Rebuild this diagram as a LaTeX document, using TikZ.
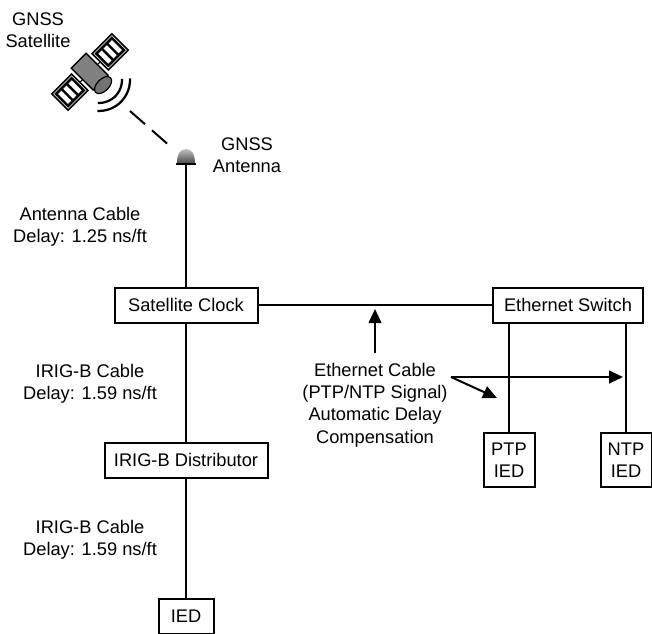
\documentclass[tikz,border=0pt]{standalone}
\usepackage{fontspec}
\setmainfont{Liberation Sans}
\usetikzlibrary{arrows.meta}
\tikzset{
  cable/.style={line width=1.5pt},
  callout/.style={line width=1.5pt,-{Triangle[length=10.5pt,width=9.5pt]}},
  devicebox/.style={draw,line width=1.5pt,fill=white,inner sep=0,align=center,font=\fontsize{13.7pt}{16.8pt}\selectfont},
  cablelabel/.style={inner sep=0,align=center,font=\fontsize{13.7pt}{16.8pt}\selectfont},
  satbody/.style={draw,line width=1pt,fill=black!50}
}
\newcommand{\boxheight}{26.25pt}
\newcommand{\solarpanel}[1]{%
  \begin{scope}[shift={(#1,0)}]
    \draw[line width=1.2pt,fill=white] (-14,-11.5) rectangle (14,11.5);
    \fill[black] (-12.3,-9.8) rectangle (12.3,9.8);
    \fill[white] (-9.6,-7) rectangle (-5,7);
    \fill[white] (-2.3,-7) rectangle (2.3,7);
    \fill[white] (5,-7) rectangle (9.6,7);
  \end{scope}}

\begin{document}
\begin{tikzpicture}[x=0.75pt,y=-0.75pt]
\useasboundingbox (0,0) rectangle (652,633);

\node at (38,30.5) [cablelabel] (satLabel) {GNSS\\Satellite};
\node at (247,155.5) [cablelabel] (antennaLabel) {GNSS\\Antenna};
\node at (80,226.5) [cablelabel] (antennaCable) {Antenna Cable\\Delay: 1.25 ns/ft};
\node at (90,383.5) [cablelabel] (irigCableA) {IRIG-B Cable\\Delay: 1.59 ns/ft};
\node at (90,539.5) [cablelabel] (irigCableB) {IRIG-B Cable\\Delay: 1.59 ns/ft};

\node at (186,305) [devicebox,minimum width=107.25pt,minimum height=\boxheight] (clock) {Satellite Clock};
\node at (186,460) [devicebox,minimum width=122.25pt,minimum height=\boxheight] (distributor) {IRIG-B Distributor};
\node at (186,616) [devicebox,minimum width=41.25pt,minimum height=\boxheight] (ied) {IED};
\node at (568,305) [devicebox,minimum width=112.5pt,minimum height=\boxheight] (switch) {Ethernet Switch};
\node at (509,460) [devicebox,minimum width=38.25pt,minimum height=40.5pt] (ptp) {PTP\\IED};
\node at (626,460) [devicebox,minimum width=38.25pt,minimum height=40.5pt] (ntp) {NTP\\IED};

% satellite
\begin{scope}[shift={(90,72)},rotate=45]
  \draw[line width=0.8pt] (-15,0) -- (15,0);
  \solarpanel{28.5}
  \solarpanel{-28.5}
  \draw[satbody] (-10.5,-16) rectangle (10.5,15);
  \draw[line width=0.9pt,fill=black!55] (0,18.5) ellipse [x radius=10.5,y radius=6];
  \draw[line width=1.7pt] (0.7,12) ++(42:23) arc [start angle=42,end angle=138,radius=23];
  \draw[line width=1.7pt] (0.7,12) ++(42:31) arc [start angle=42,end angle=138,radius=31];
\end{scope}

% antenna
\shade[top color=black!25,bottom color=black!70] (177,163) .. controls (177,154) and (180.5,149) .. (186,149) .. controls (191.5,149) and (195,154) .. (195,163) -- cycle;
\draw[line width=1.5pt] (176,163.5) -- (196,163.5);
\coordinate (antenna) at (186,164);
\coordinate (dishEnd) at (130,111);
\coordinate (antennaEnd) at (171,147);
\draw[line width=1.5pt,dash pattern=on 15pt off 7pt] (dishEnd) -- (antennaEnd);

\draw[cable] (antenna) -- (clock);
\draw[cable] (clock) -- (distributor);
\draw[cable] (distributor) -- (ied);
\draw[cable] (clock) -- (switch);
\draw[cable] (ptp.north) -- (ptp.north |- switch.south);
\draw[cable] (ntp.north) -- (ntp.north |- switch.south);

\node at (375,405) [cablelabel] (ethernetLabel) {Ethernet Cable\\(PTP/NTP Signal)\\Automatic Delay\\Compensation};
\coordinate (ethernetUp) at (375,309);
\coordinate (ethernetStart) at (375,353);
\coordinate (splitPoint) at (451,377);
\coordinate (ntpTip) at (623,377);
\coordinate (ptpTip) at (497,398);
\draw[callout] (ethernetStart) -- (ethernetUp);
\draw[callout] (splitPoint) -- (ntpTip);
\draw[callout] (splitPoint) -- (ptpTip);

\end{tikzpicture}
\end{document}
